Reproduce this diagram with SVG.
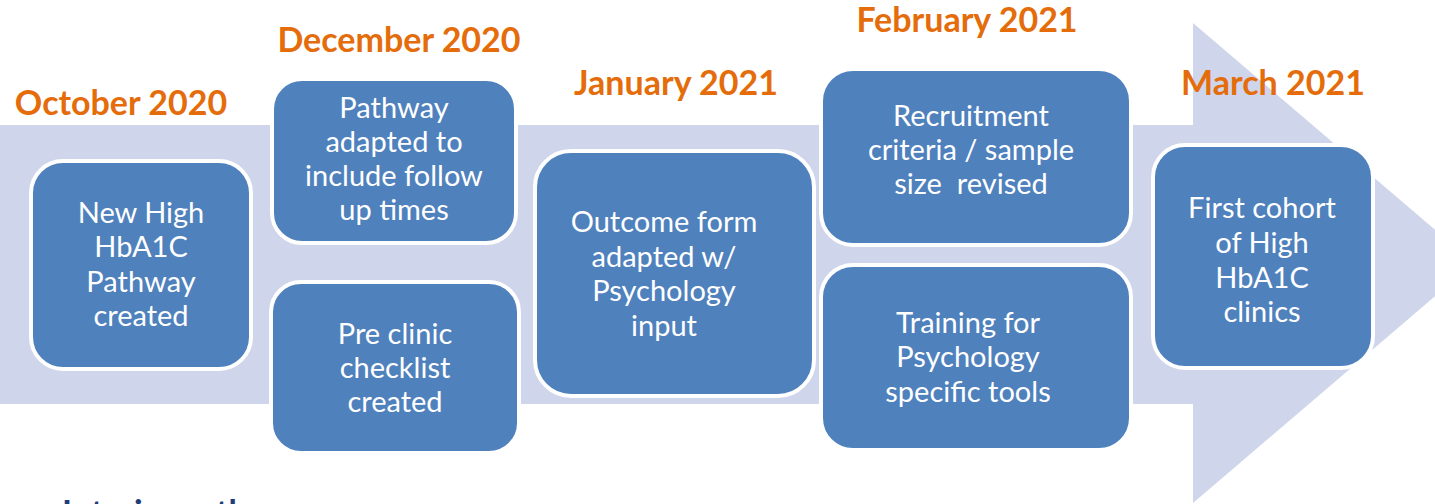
<svg xmlns="http://www.w3.org/2000/svg" width="1435" height="504" viewBox="0 0 1435 504">
  <style>
    .band { fill: #CFD5EA; }
    .box { fill: #4F81BD; stroke: #FFFFFF; stroke-width: 4; }
    .body { font-family: Lato, "Open Sans", "Liberation Sans", sans-serif; font-size: 29px; fill: #FFFFFF; text-anchor: middle; }
    .month { font-family: Lato, "Open Sans", "Liberation Sans", sans-serif; font-size: 34px; font-weight: bold; fill: #E46C0A; text-anchor: middle; }
    .footer { font-family: Lato, "Liberation Sans", sans-serif; font-size: 34px; font-weight: bold; fill: #1F3C78; }
  </style>

  <!-- Timeline arrow -->
  <path class="band" d="M0,125 H1193 V23 L1474,263 L1193,503 V404 H0 Z"/>

  <!-- Month headings -->
  <g id="months">
    <text class="month" x="121" y="115">October 2020</text>
    <text class="month" x="399" y="52">December 2020</text>
    <text class="month" x="676" y="95">January 2021</text>
    <text class="month" x="967" y="32">February 2021</text>
    <text class="month" x="1273" y="95">March 2021</text>
  </g>

  <g id="connectors"></g>

  <g id="oct-pathway">
    <rect class="box" x="31" y="161" width="220" height="208" rx="32"/>
    <text class="body" x="141"><tspan x="141" y="223">New High</tspan><tspan x="141" y="257">HbA1C</tspan><tspan x="141" y="292">Pathway</tspan><tspan x="141" y="326">created</tspan></text>
  </g>

  <g id="dec-followup">
    <rect class="box" x="272" y="79" width="244" height="164" rx="30"/>
    <text class="body" x="394"><tspan x="394" y="118">Pathway</tspan><tspan x="394" y="152">adapted to</tspan><tspan x="394" y="186">include follow</tspan><tspan x="394" y="220">up times</tspan></text>
  </g>

  <g id="dec-checklist">
    <rect class="box" x="271" y="282" width="248" height="171" rx="30"/>
    <text class="body" x="395"><tspan x="395" y="344">Pre clinic</tspan><tspan x="395" y="378">checklist</tspan><tspan x="395" y="412">created</tspan></text>
  </g>

  <g id="jan-outcome">
    <rect class="box" x="535" y="151" width="279" height="245" rx="36"/>
    <text class="body" x="664"><tspan x="664" y="232">Outcome form</tspan><tspan x="664" y="267">adapted w/</tspan><tspan x="664" y="301">Psychology</tspan><tspan x="664" y="336">input</tspan></text>
  </g>

  <g id="feb-recruitment">
    <rect class="box" x="821" y="69" width="310" height="176" rx="32"/>
    <text class="body" x="971" xml:space="preserve"><tspan x="971" y="126">Recruitment</tspan><tspan x="971" y="160">criteria / sample</tspan><tspan x="971" y="194">size  revised</tspan></text>
  </g>

  <g id="feb-training">
    <rect class="box" x="821" y="265" width="310" height="185" rx="32"/>
    <text class="body" x="968"><tspan x="968" y="333">Training for</tspan><tspan x="968" y="367">Psychology</tspan><tspan x="968" y="402">specific tools</tspan></text>
  </g>

  <g id="mar-cohort">
    <rect class="box" x="1153" y="145" width="220" height="223" rx="32"/>
    <text class="body" x="1262"><tspan x="1262" y="218">First cohort</tspan><tspan x="1262" y="253">of High</tspan><tspan x="1262" y="288">HbA1C</tspan><tspan x="1262" y="322">clinics</tspan></text>
  </g>

  <!-- Caption running off the lower edge -->
  <text class="footer" x="62" y="525">Interim pathway</text>
</svg>
